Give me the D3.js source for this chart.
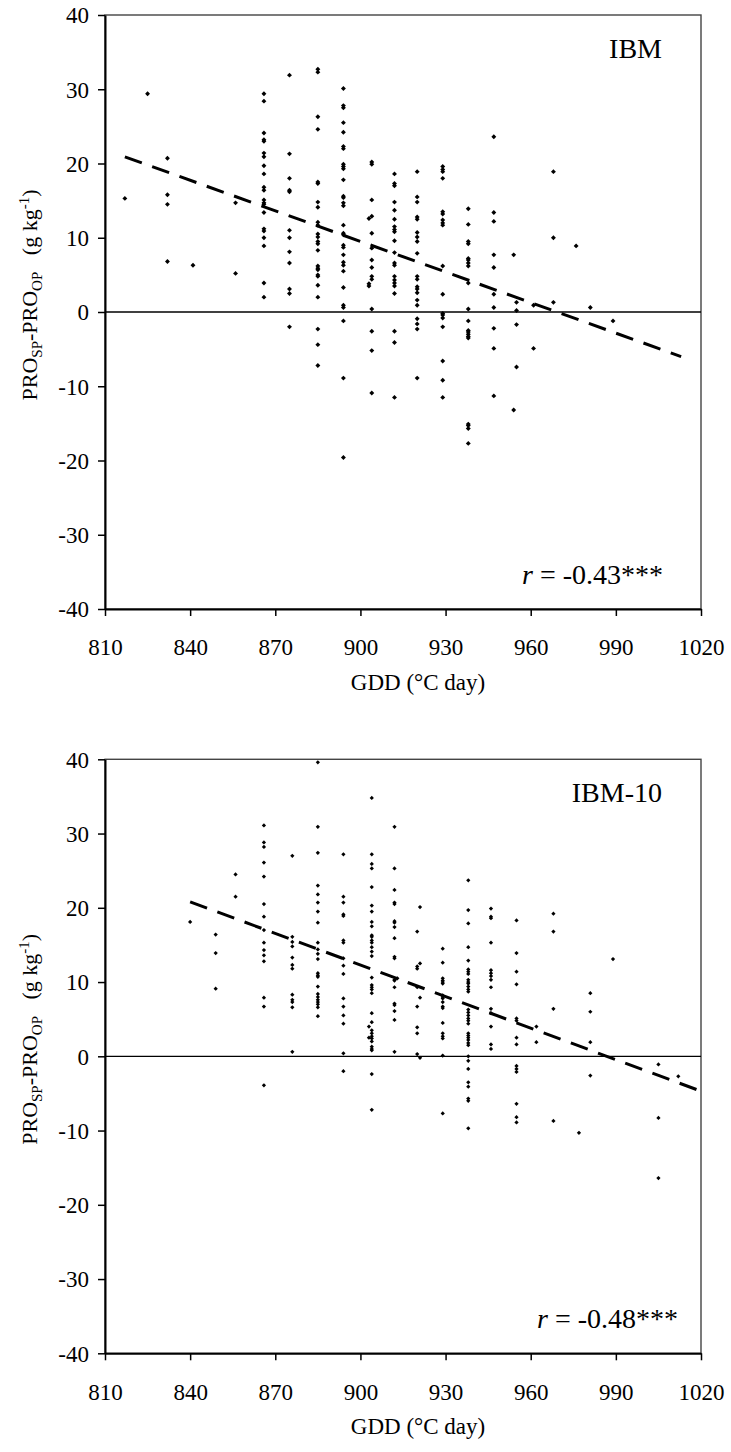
<!DOCTYPE html>
<html>
<head>
<meta charset="utf-8">
<script src="https://cdn.jsdelivr.net/npm/d3@7"></script>
<style>
  body { margin: 0; background: #fff; }
  svg { display: block; }
  text { font-family: "Liberation Serif", "Times New Roman", serif; fill: #000; }
</style>
</head>
<body>
<svg id="chart" width="731" height="1452"></svg>
<script>
var gddTicks = [810, 840, 870, 900, 930, 960, 990, 1020];
var diffTicks = [-40, -30, -20, -10, 0, 10, 20, 30, 40];

// IBM panel: GDD columns and the PRO difference values found in each
var ibmGdd = [817, 825, 832, 841, 856, 866, 875, 885, 894, 903, 904, 912, 920, 929, 938, 947, 954, 955, 961, 968, 976, 981, 989];
var ibmDiff = [
    [15.3],
    [29.4],
    [20.7, 15.8, 14.5, 6.8],
    [6.3],
    [14.7, 5.2],
    [29.4, 28.4, 24.1, 23.2, 23.0, 21.4, 20.9, 19.7, 18.6, 16.8, 16.4, 15.1, 14.7, 14.5, 13.4, 11.2, 10.9, 10.0, 8.9, 3.9, 2.0],
    [31.9, 21.3, 18.0, 16.4, 16.2, 11.0, 10.0, 8.1, 6.6, 3.1, 2.5, -2.0],
    [32.7, 32.3, 26.3, 24.6, 17.5, 17.3, 14.8, 14.1, 12.1, 11.7, 10.5, 10.1, 9.5, 9.2, 8.3, 6.2, 5.9, 5.7, 5.0, 4.8, 3.6, 2.0, -2.3, -4.4, -7.2],
    [30.1, 27.8, 27.5, 25.5, 24.2, 22.3, 22.0, 19.9, 19.6, 19.3, 17.8, 15.6, 15.4, 14.7, 14.3, 11.7, 10.6, 10.4, 9.0, 8.7, 7.7, 6.7, 6.3, 5.5, 3.3, 0.9, 0.6, -1.2, -8.9, -19.6],
    [12.6, 3.8, 3.5],
    [20.2, 19.9, 15.1, 12.9, 10.6, 8.6, 7.0, 6.0, 4.8, 4.4, 0.4, -2.6, -5.2, -10.9],
    [18.6, 17.3, 17.0, 14.8, 13.7, 12.5, 11.5, 11.1, 10.8, 9.6, 8.0, 6.6, 6.3, 4.8, 4.3, 3.9, 3.5, 2.5, -2.6, -4.1, -11.5],
    [18.9, 15.5, 14.8, 12.8, 12.5, 10.7, 10.1, 9.5, 7.9, 4.8, 4.4, 3.4, 3.1, 2.6, 1.6, 0.9, -0.9, -1.6, -2.3, -8.9],
    [19.6, 19.2, 18.9, 18.0, 13.5, 13.2, 12.4, 12.0, 11.7, 6.2, 2.4, -0.2, -0.4, -0.8, -2.0, -6.6, -9.2, -11.5],
    [13.9, 11.8, 9.5, 9.2, 7.2, 7.0, 6.6, 6.2, 3.9, 0.4, -1.2, -2.5, -2.7, -3.0, -3.3, -3.5, -15.1, -15.3, -15.7, -17.7],
    [23.6, 13.4, 12.2, 7.7, 6.0, 2.4, 0.6, -2.2, -4.9, -11.3],
    [7.7, -13.2],
    [1.3, 0.2, -1.7, -7.4],
    [0.9, -4.9],
    [18.9, 10.0, 1.3],
    [8.9],
    [0.6],
    [-1.2]
];
var ibmTrend = [[817, 20.9], [1013, -6.0]];

// IBM-10 panel
var ibm10Gdd = [840, 849, 856, 866, 876, 885, 894, 903, 904, 912, 913, 920, 921, 929, 938, 946, 955, 962, 968, 977, 981, 989, 1005, 1012];
var ibm10Diff = [
    [18.1],
    [16.4, 13.9, 9.1],
    [24.5, 21.5],
    [31.1, 28.8, 28.2, 26.1, 24.2, 20.5, 18.8, 17.0, 15.3, 14.3, 13.6, 12.8, 7.9, 6.7, -3.9],
    [27.0, 16.1, 15.4, 14.8, 13.3, 12.3, 11.8, 8.3, 7.6, 7.3, 6.6, 0.6],
    [39.6, 30.9, 27.4, 23.0, 21.8, 20.7, 19.5, 18.0, 15.3, 14.4, 13.8, 13.1, 11.2, 10.9, 10.7, 9.4, 8.4, 8.0, 7.6, 7.3, 7.0, 6.6, 5.4],
    [27.2, 21.5, 20.7, 19.1, 18.9, 15.6, 15.3, 13.2, 12.2, 11.1, 7.8, 6.7, 5.5, 4.4, 0.4, -2.0],
    [4.0, 2.5],
    [34.8, 27.2, 25.9, 25.3, 22.8, 20.3, 19.5, 18.1, 17.5, 16.3, 16.1, 15.6, 15.3, 14.7, 14.1, 13.5, 10.6, 9.6, 9.3, 9.0, 8.5, 5.8, 4.6, 3.5, 3.1, 2.7, 2.4, 2.0, 1.3, 1.0, 0.8, -2.4, -7.2],
    [30.9, 25.3, 22.4, 20.7, 20.5, 18.2, 18.0, 17.4, 15.9, 13.4, 13.2, 10.3, 10.2, 9.3, 7.1, 6.9, 6.1, 4.9, 0.6],
    [10.5],
    [16.8, 12.1, 11.8, 9.3, 6.7, 3.9, 3.1, 0.3],
    [20.1, 12.5, 7.9, -0.2],
    [14.5, 12.6, 10.5, 10.2, 10.0, 9.8, 8.2, 8.0, 7.8, 7.3, 6.7, 6.5, 4.5, 3.1, 2.7, 2.4, 0.1, -7.7],
    [23.7, 19.7, 17.9, 14.7, 12.9, 11.7, 11.4, 11.1, 10.3, 10.0, 9.8, 9.4, 9.0, 8.7, 6.3, 5.9, 5.5, 5.1, 4.8, 4.4, 3.1, 2.8, 2.5, 2.2, 1.8, 1.5, 0.0, -0.6, -1.7, -3.5, -4.1, -5.7, -6.0, -9.7],
    [19.9, 18.8, 18.6, 15.3, 11.6, 11.2, 10.8, 10.3, 9.3, 6.4, 5.8, 4.0, 1.6, 1.0],
    [18.3, 13.9, 11.4, 9.7, 5.1, 4.8, 2.5, 1.6, -1.3, -1.7, -2.1, -6.4, -8.2, -8.9],
    [4.0, 1.9],
    [19.2, 16.8, 6.4, -8.7],
    [-10.3],
    [8.5, 6.0, 1.9, -2.6],
    [13.1],
    [-1.1, -8.3, -16.4],
    [-2.7]
];
var ibm10Trend = [[840, 20.8], [1020, -4.7]];

var panels = [
    { name: "IBM",    r: "-0.43***", gdd: ibmGdd,   diff: ibmDiff,   trend: ibmTrend,   top: 15,    rEnd: 663, dot: 12 },
    { name: "IBM-10", r: "-0.48***", gdd: ibm10Gdd, diff: ibm10Diff, trend: ibm10Trend, top: 759.3, rEnd: 678, dot: 9 }
];

var left = 105, right = 701, plotH = 594;
var svg = d3.select("#chart");
svg.append("rect").attr("width", 731).attr("height", 1452).attr("fill", "#fff");

var x = d3.scaleLinear().domain([810, 1020]).range([left, right]);

panels.forEach(function(p) {
    var y = d3.scaleLinear().domain([-40, 40]).range([p.top + plotH, p.top]);
    var g = svg.append("g");

    // frame (top and right sides)
    g.append("rect")
        .attr("x", left).attr("y", p.top)
        .attr("width", right - left).attr("height", plotH)
        .attr("fill", "none").attr("stroke", "#444").attr("stroke-width", 1.4);

    // zero line
    g.append("line")
        .attr("x1", left).attr("x2", right)
        .attr("y1", y(0)).attr("y2", y(0))
        .attr("stroke", "#000").attr("stroke-width", 1.3);

    var points = [];
    p.gdd.forEach(function(gd, i) {
        p.diff[i].forEach(function(v) { points.push({ gdd: gd, diff: v }); });
    });

    // small diamond markers
    var marker = d3.symbol().type(d3.symbolSquare).size(p.dot);
    g.selectAll("path.pt").data(points).enter().append("path")
        .attr("class", "pt")
        .attr("d", marker)
        .attr("transform", function(d) {
            return "translate(" + x(d.gdd) + "," + y(d.diff) + ") rotate(45)";
        })
        .attr("fill", "#000");

    var line = d3.line()
        .x(function(d) { return x(d[0]); })
        .y(function(d) { return y(d[1]); });
    g.append("path")
        .attr("d", line(p.trend))
        .attr("fill", "none").attr("stroke", "#000")
        .attr("stroke-width", 3).attr("stroke-dasharray", "18,11");

    // axes
    var yAxis = g.append("g")
        .attr("transform", "translate(" + left + ",0)")
        .call(d3.axisLeft(y).tickValues(diffTicks).tickSize(7).tickSizeOuter(0).tickPadding(9)
            .tickFormat(function(d) { return String(d); }));
    var xAxis = g.append("g")
        .attr("transform", "translate(0," + (p.top + plotH) + ")")
        .call(d3.axisBottom(x).tickValues(gddTicks).tickSize(7).tickSizeOuter(0).tickPadding(23)
            .tickFormat(function(d) { return String(d); }));

    [yAxis, xAxis].forEach(function(a) {
        a.attr("font-family", null);
        a.select(".domain").attr("stroke", "#000").attr("stroke-width", 2);
        a.selectAll(".tick line").attr("stroke", "#000").attr("stroke-width", 1.5);
        a.selectAll("text")
            .style("font-family", "'Liberation Serif', 'Times New Roman', serif")
            .style("font-size", "23px").attr("fill", "#000");
    });
    yAxis.selectAll("text").attr("dy", "0.34em");

    // x title
    g.append("text")
        .attr("x", 418).attr("y", p.top + 675)
        .attr("text-anchor", "middle")
        .style("font-size", "23px")
        .text("GDD (°C day)");

    // y title
    var yt = g.append("text")
        .attr("transform", "translate(37," + (p.top + 280) + ") rotate(-90)")
        .attr("text-anchor", "middle")
        .style("font-size", "22px");
    yt.append("tspan").text("PRO");
    yt.append("tspan").attr("dy", 5).style("font-size", "15px").text("SP");
    yt.append("tspan").attr("dy", -5).text("-PRO");
    yt.append("tspan").attr("dy", 5).style("font-size", "15px").text("OP");
    yt.append("tspan").attr("dy", -5).text("\u00a0\u00a0\u00a0(g kg");
    yt.append("tspan").attr("dy", -8).style("font-size", "15px").text("-1");
    yt.append("tspan").attr("dy", 8).text(")");

    // panel name
    g.append("text")
        .attr("x", 662).attr("y", p.top + 43)
        .attr("text-anchor", "end")
        .style("font-size", "28px")
        .text(p.name);

    // correlation
    var rt = g.append("text")
        .attr("x", p.rEnd).attr("y", p.top + 569)
        .attr("text-anchor", "end")
        .style("font-size", "28px");
    rt.append("tspan").style("font-style", "italic").text("r");
    rt.append("tspan").text(" = " + p.r);
});
</script>
</body>
</html>
